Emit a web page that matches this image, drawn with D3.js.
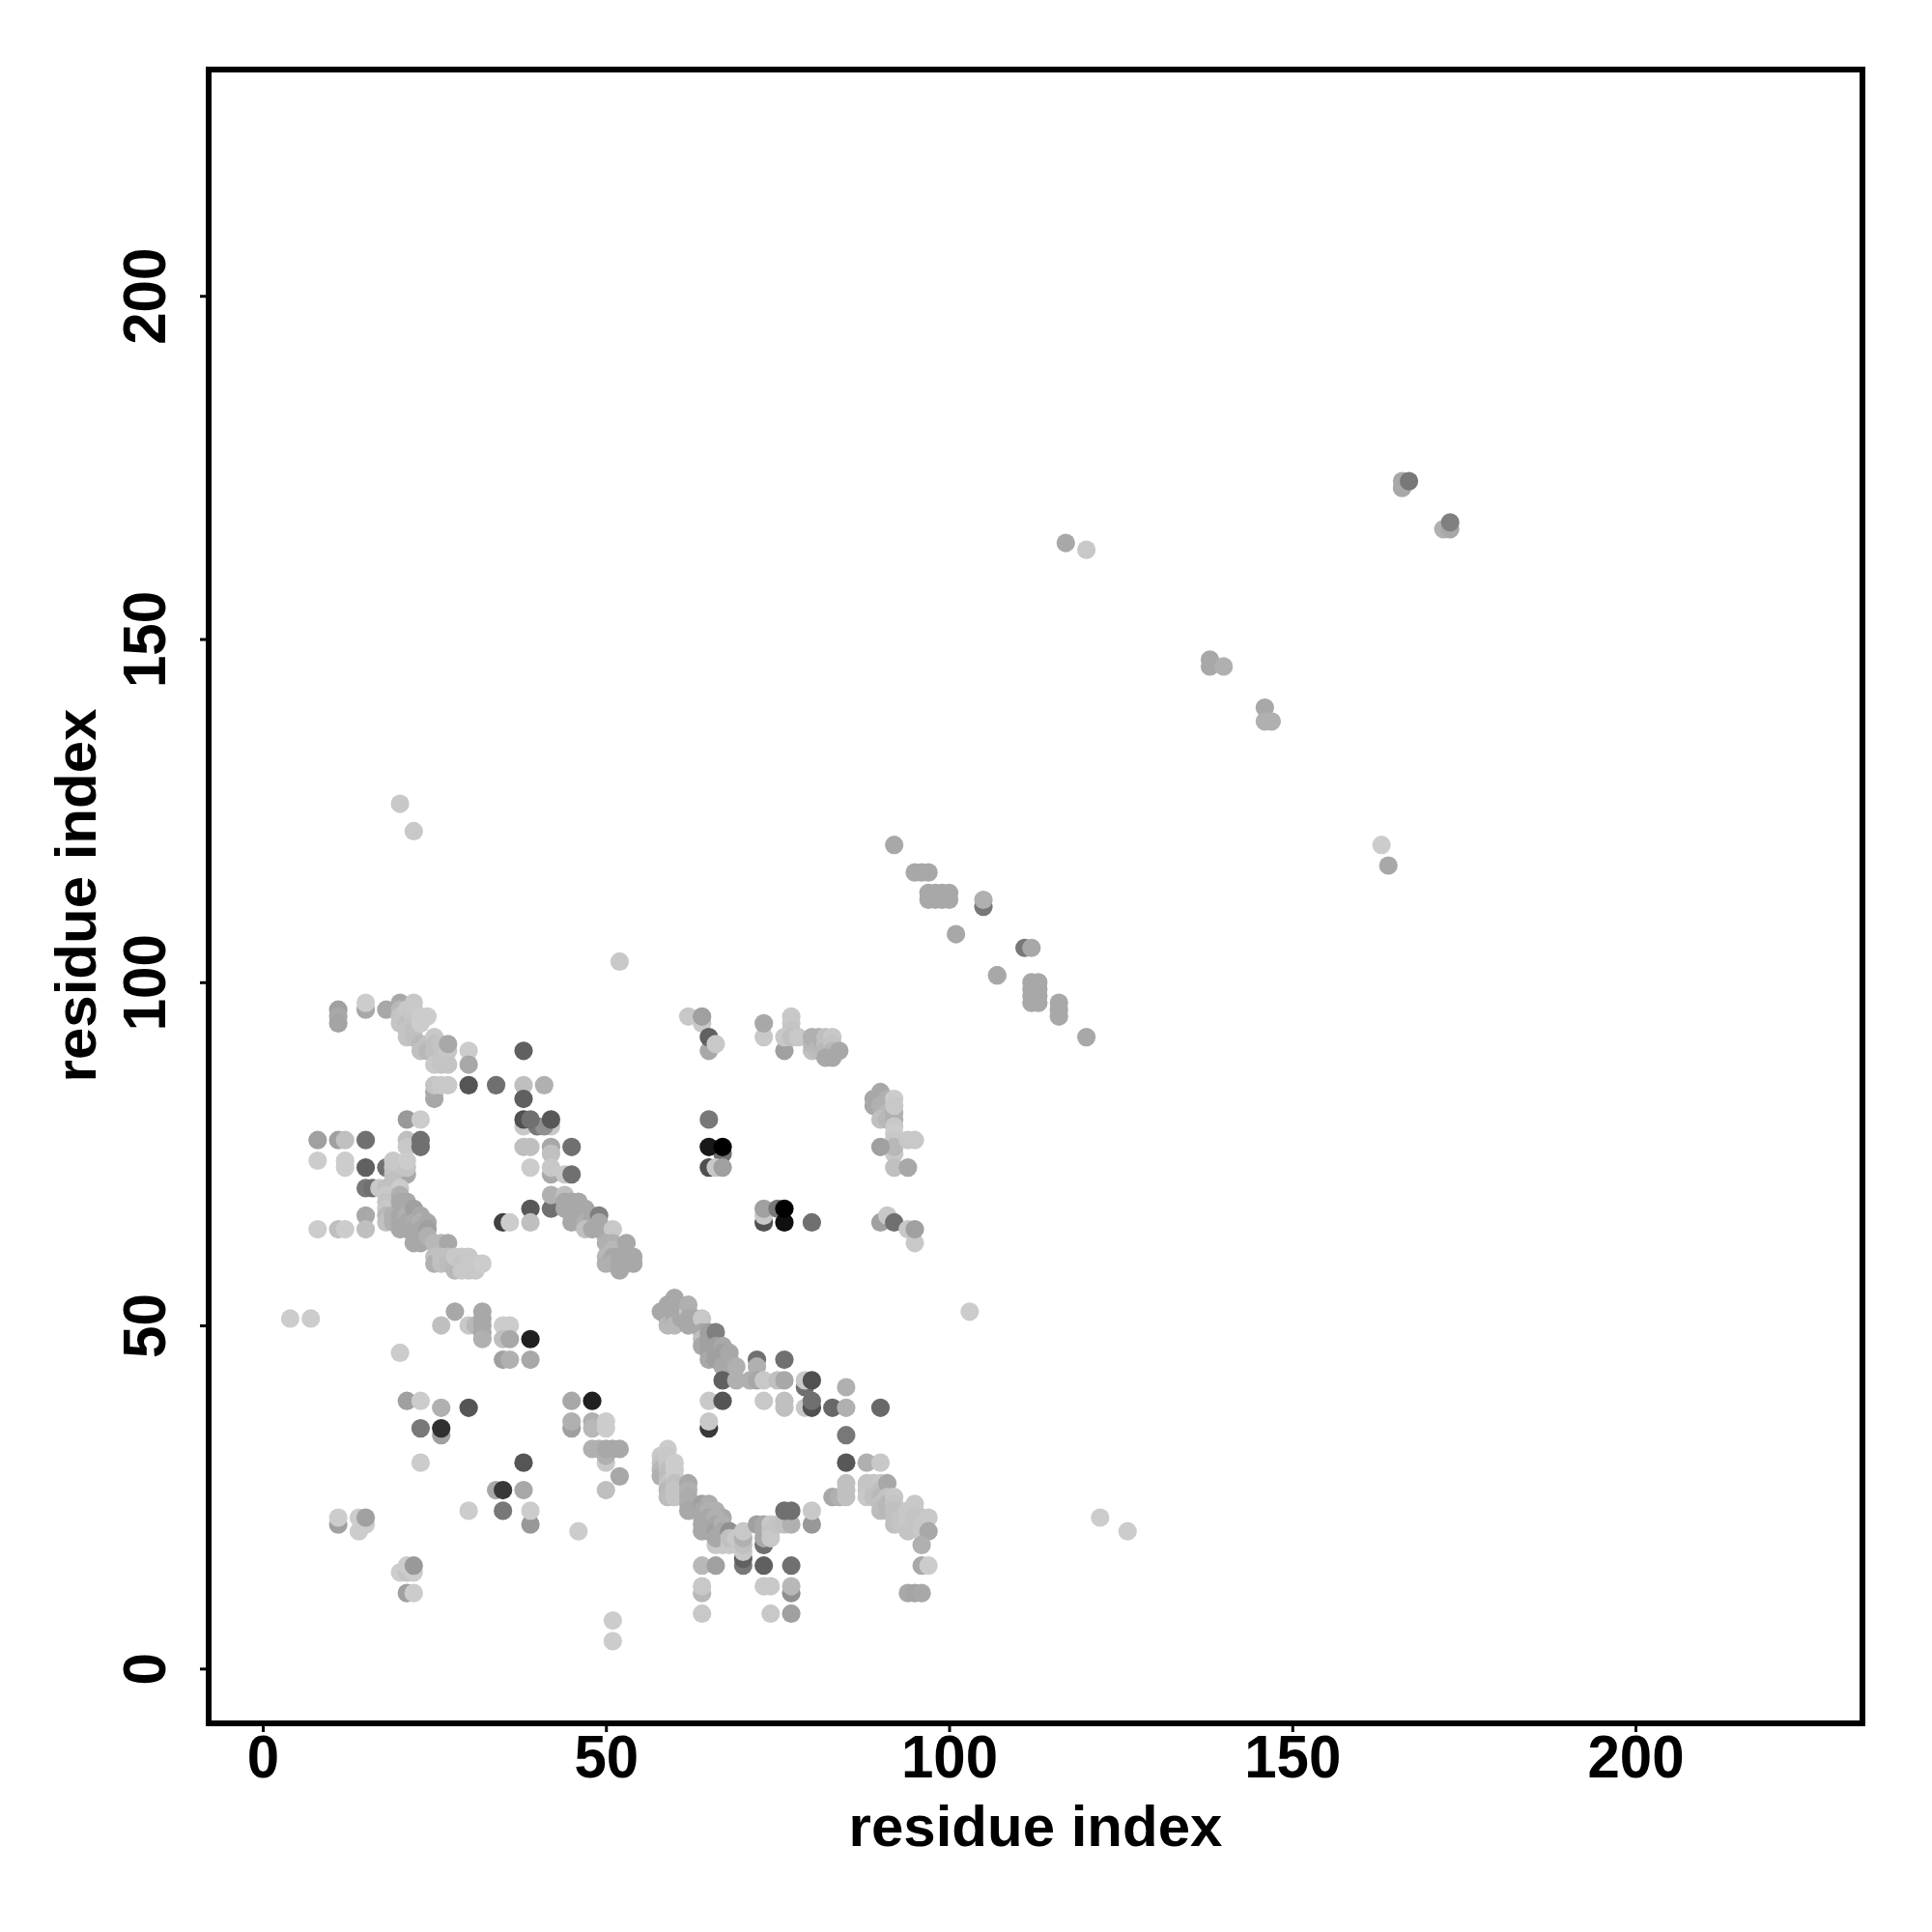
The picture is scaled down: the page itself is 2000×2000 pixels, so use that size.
<!DOCTYPE html>
<html><head><meta charset="utf-8">
<script src="https://cdn.jsdelivr.net/npm/d3@7"></script>
<style>html,body{margin:0;padding:0;background:#fff}svg{display:block}</style>
</head><body><div id="chart"></div>
<script>
const tickValues=[0,50,100,150,200];
const axisTitle="residue index";
// each contact: [residue i, residue j, level]
const farContacts=[[20,126,0xc8],[22,122,0xc8],[52,103,0xc8],[103,52,0xcc],[163,120,0xcc],[164,117,0xa8],[117,164,0xa8],[120,163,0xc8],[138,147,0xa8],[138,146,0xa8],[140,146,0xb0],[146,140,0xa8],[146,138,0xb0],[147,138,0xb0],[166,173,0xa8],[166,172,0xa8],[167,173,0x78],[172,166,0xb0],[173,166,0xa8],[173,167,0x80],[122,22,0xcc],[126,20,0xcc],[4,51,0xcc],[7,51,0xcc],[51,7,0xcc],[51,4,0xcc]];
const strandContacts=[[92,120,0xa8],[95,116,0xa8],[96,116,0xa8],[97,116,0xa8],[97,113,0xa8],[97,112,0xa8],[98,113,0xa8],[98,112,0xa8],[99,113,0xa8],[99,112,0xa8],[100,113,0xa8],[100,112,0xa8],[105,111,0x78],[105,112,0xb0],[101,107,0xa8],[111,105,0x78],[112,105,0xa8],[107,101,0xa8],[112,100,0xa8],[112,99,0xa8],[112,98,0xa8],[112,97,0xa8],[113,100,0xa8],[113,99,0xa8],[113,98,0xa8],[113,97,0xa8],[116,97,0xa8],[116,96,0xa8],[116,95,0xa8],[120,92,0xa8]];
const upperArc=[[11,96,0xa0],[11,95,0xa8],[11,94,0xa4],[15,96,0xa8],[15,97,0xcc],[18,96,0xa8],[20,97,0xa8],[20,96,0xb8],[20,95,0xc4],[20,94,0xc4],[21,96,0xc8],[21,94,0xc0],[21,93,0xc4],[21,92,0xc4],[22,97,0xc8],[22,96,0xc8],[22,95,0xc8],[22,94,0xc4],[22,93,0xc0],[22,92,0xc0],[23,95,0xcc],[23,94,0xcc],[23,91,0xb8],[23,90,0xc0],[24,95,0xcc],[24,91,0xc0],[24,90,0xb8],[25,92,0xc8],[25,91,0xc0],[25,90,0xc0],[25,88,0xc8],[26,91,0xc4],[26,89,0xc4],[26,88,0xc4],[27,90,0xc8],[27,88,0xc4],[27,91,0xa8],[30,90,0xcc],[30,88,0xa8],[38,90,0x60],[25,83,0xa8],[25,84,0xa8],[25,85,0xc4],[26,85,0xc8],[27,85,0xc8],[30,85,0x55],[34,85,0x70],[38,85,0xbf],[41,85,0xb0],[38,83,0x60]];
const leftBlock=[[21,80,0x99],[23,80,0xcc],[38,79,0xc8],[42,79,0xc8],[40,79,0x78],[41,79,0x90],[38,80,0x50],[39,80,0x70],[42,80,0x58],[8,77,0xa0],[11,77,0xa0],[12,77,0xc0],[15,77,0x70],[21,77,0xbf],[21,76,0xc8],[23,76,0x70],[23,77,0x70],[38,76,0xbf],[39,76,0xbf],[42,76,0xa8],[45,76,0x70],[8,74,0xcc],[12,74,0xcc],[12,73,0xcc],[15,73,0x60],[18,73,0x70],[42,75,0xc0],[39,73,0xcc],[42,72,0xa8],[42,73,0xc8],[44,72,0xc8],[45,72,0x70],[15,70,0x78],[16,70,0x70],[17,70,0xc8],[15,66,0xa8],[8,64,0xcc],[11,64,0xbf],[12,64,0xcc],[15,64,0xbf],[39,67,0x58],[42,67,0x70],[42,69,0xb0],[44,69,0xbf],[35,65,0x40],[36,65,0xcc],[39,65,0xbf]];
const lowerArc=[[19,72,0xc0],[21,72,0xa8],[20,73,0xc0],[19,73,0xc4],[19,74,0xc8],[21,73,0xc4],[21,74,0xcc],[18,70,0xc0],[19,71,0xc0],[20,70,0xcc],[18,69,0xc8],[18,68,0xc4],[18,67,0xc8],[18,66,0xb8],[18,65,0xc0],[19,66,0xb0],[19,65,0xb0],[20,69,0xb0],[20,68,0xa8],[20,66,0xa8],[20,65,0xa8],[20,64,0xa8],[21,68,0xa8],[21,66,0xb0],[21,65,0xa8],[21,64,0xa8],[22,67,0xa0],[22,65,0xac],[22,64,0xa8],[22,62,0xa8],[23,66,0xa8],[23,65,0xb0],[23,64,0xa8],[23,63,0xa8],[23,62,0xa8],[24,65,0xa8],[24,64,0xa0],[24,63,0xb0],[25,62,0xb8],[26,62,0xb8],[27,62,0xa8],[25,60,0xc0],[25,59,0xb0],[26,60,0xc0],[26,59,0xc0],[27,60,0xc0],[27,59,0xbc],[28,59,0xb8],[28,58,0xb8],[28,60,0xc8],[29,60,0xc8],[29,59,0xc4],[29,58,0xc8],[30,60,0xc8],[30,59,0xc8],[30,58,0xc8],[31,59,0xc8],[31,58,0xc8],[32,59,0xcc]];
const midChain=[[44,68,0xa8],[44,67,0xa8],[45,68,0xa8],[45,67,0xa8],[46,68,0xa8],[46,67,0xa8],[45,66,0xa8],[45,65,0xa8],[46,66,0xa8],[46,65,0xa8],[47,67,0xa8],[47,66,0xa8],[47,65,0xb0],[48,66,0xa8],[48,65,0xa8],[47,64,0xc0],[48,64,0xa8],[49,66,0x80],[49,65,0xa8],[49,64,0xa8],[50,63,0xa8],[51,64,0xc8],[50,62,0xb0],[50,60,0xb8],[50,59,0xb0],[51,62,0xb0],[51,61,0xb8],[51,60,0xa8],[51,59,0xb0],[52,60,0xa8],[52,59,0xa8],[52,58,0xa8],[53,62,0xa8],[53,60,0xa8],[53,59,0xa8],[54,60,0xa8],[54,59,0xa8]];
const centerChain=[[58,52,0xa8],[59,53,0xa8],[59,52,0xa8],[59,51,0xa8],[59,50,0xb8],[60,54,0xa8],[60,53,0xa8],[60,52,0xa8],[60,51,0xa8],[60,50,0xb8],[61,52,0xa8],[61,51,0xa8],[62,52,0xc8],[62,53,0xb0],[62,51,0xa8],[62,50,0xa8],[63,51,0xa8],[64,51,0xc8],[64,49,0xa8],[64,48,0xc0],[64,47,0xa8],[65,49,0xa0],[65,48,0xa0],[65,47,0xa0],[65,46,0xa0],[65,45,0xa8],[66,49,0x80],[66,47,0xa0],[66,46,0xa0],[66,45,0xa0],[67,47,0xa8],[67,46,0xa0],[67,45,0xa0],[67,44,0xa8],[68,46,0xa8],[68,45,0xa8],[68,44,0xa8],[67,42,0x60],[69,44,0xb0],[69,42,0xb0],[72,45,0x70],[76,45,0x70],[72,44,0xb0],[71,42,0xb0],[72,42,0xa8],[73,42,0xc8],[75,42,0xc0],[76,42,0xa8],[79,41,0x70],[79,42,0xc8],[80,42,0x50],[85,41,0xb0],[65,39,0xc8],[67,39,0x55],[73,39,0xc8],[76,39,0xc0],[76,38,0xc0],[79,38,0xc8],[80,38,0x50],[80,39,0x70],[83,38,0x68],[85,38,0xb0],[90,38,0x68],[65,35,0x38],[65,36,0xc8],[85,34,0x78]];
const lowerLeftBlock=[[28,52,0xa8],[32,52,0xa8],[26,50,0xbf],[30,50,0xc8],[31,50,0xb8],[32,51,0xa8],[32,50,0xa8],[32,49,0xa8],[32,48,0xb0],[35,50,0xcc],[36,50,0xcc],[35,48,0xbf],[36,48,0xa8],[39,48,0x20],[35,45,0xa0],[36,45,0xb0],[39,45,0xa8],[20,46,0xcc],[21,39,0xa0],[23,39,0xcc],[26,38,0xb0],[30,38,0x55],[23,35,0x78],[26,34,0xa0],[26,35,0x30],[23,30,0xcc],[38,30,0x55],[34,26,0xa8],[35,26,0x38],[38,26,0xa8],[30,23,0xcc],[35,23,0x78],[39,21,0x98],[39,23,0xcc],[11,21,0xa0],[11,22,0xcc],[14,20,0xcc],[15,21,0xcc],[14,22,0xcc],[15,22,0xa0],[46,20,0xcc],[45,39,0xa8],[48,39,0x20],[45,35,0xa0],[45,36,0xb0],[48,36,0xb0],[48,35,0xb8],[50,36,0xcc],[50,35,0xcc],[48,32,0xb0],[49,32,0xb0],[50,30,0xc8],[50,31,0xb0],[50,32,0xa8],[51,32,0xa8],[52,32,0xa8],[52,28,0xa8],[50,26,0xbf],[20,14,0xcc],[21,14,0xc4],[22,14,0xcc],[21,15,0xcc],[22,15,0x99],[21,11,0xa0],[22,11,0xcc]];
const bottomArc=[[58,31,0xc8],[58,30,0xc4],[58,29,0xb8],[58,28,0xb0],[59,32,0xcc],[59,31,0xc8],[59,30,0xc8],[59,29,0xc0],[59,28,0xbc],[59,27,0xc4],[59,26,0xb8],[59,25,0xbc],[60,30,0xcc],[60,29,0xcc],[60,28,0xcc],[60,27,0xc0],[60,26,0xc4],[60,25,0xc4],[62,27,0xa8],[62,26,0xb0],[62,25,0xac],[62,24,0xac],[62,23,0xa8],[64,24,0xa0],[65,24,0xac],[66,23,0xb0],[67,22,0xa8],[64,23,0xa8],[64,22,0xa8],[64,21,0xa8],[64,20,0xa8],[65,23,0xb0],[65,22,0xa8],[65,21,0xa8],[65,20,0xa8],[66,18,0xc8],[67,18,0xc8],[66,22,0xb0],[66,21,0xa8],[66,20,0xa0],[66,19,0xa8],[67,21,0xb0],[67,20,0xa8],[67,19,0xa8],[68,18,0xc8],[69,18,0xc8],[68,20,0x90],[68,19,0xc0],[69,19,0xc8],[70,15,0x78],[70,16,0x60],[70,17,0xc8],[70,18,0xc0],[70,19,0xb0],[70,20,0xc8],[73,18,0x70],[72,21,0xa0],[73,21,0xa8],[73,20,0xa8],[73,19,0xa8],[74,21,0xc8],[74,20,0xc4],[74,19,0xc8],[75,21,0xc4],[76,21,0xc0],[77,21,0xb0],[76,23,0x70],[77,23,0x70],[80,21,0x98],[80,23,0xc8],[64,15,0xb8],[66,15,0xa0],[73,15,0x60],[77,15,0x70],[64,11,0xb8],[64,12,0xc8],[73,12,0xc8],[74,12,0xc8],[77,11,0x90],[77,12,0xb8],[64,8,0xc8],[74,8,0xc8],[77,8,0xa0]];
const rightArc=[[85,30,0x58],[88,30,0xb0],[90,30,0xc8],[83,25,0xa8],[84,25,0xb0],[85,25,0xc0],[85,26,0xc0],[85,27,0xc0],[88,27,0xc4],[88,26,0xc4],[88,25,0xc8],[89,27,0xc4],[89,26,0xc4],[89,25,0xc0],[90,27,0xc8],[90,26,0xc0],[90,25,0xb8],[90,24,0xc0],[90,23,0xbc],[91,27,0xa8],[91,25,0xc4],[91,24,0xb8],[91,23,0xb8],[92,25,0xc8],[92,24,0xc4],[92,23,0xc0],[92,22,0xc0],[92,21,0xc0],[93,22,0xc4],[93,21,0xc4],[94,23,0xc8],[94,22,0xc8],[94,21,0xc8],[94,20,0xc4],[95,24,0xc8],[95,23,0xc8],[95,22,0xc4],[96,22,0xc4],[96,21,0xc8],[96,20,0xc8],[97,22,0xc8],[97,20,0xa8],[96,18,0xb0],[96,15,0xa8],[97,15,0xcc],[94,11,0xa8],[95,11,0xa4],[96,11,0xa8]];
const upperMid=[[62,95,0xc8],[64,94,0xc8],[64,95,0xa0],[65,90,0xa8],[65,92,0x60],[66,91,0xc8],[73,92,0xc8],[73,94,0xa8],[77,95,0xc8],[77,94,0xc8],[77,93,0xc4],[76,90,0xa0],[76,92,0xc8],[77,92,0xc0],[78,92,0xc8],[80,90,0xc0],[80,91,0xb8],[80,92,0xb0],[81,90,0xbc],[81,91,0xb8],[81,92,0xb0],[82,92,0xc0],[82,91,0xc0],[82,90,0xb8],[83,92,0xc8],[83,91,0xc4],[83,90,0xb8],[82,89,0xa8],[83,89,0xa8],[84,90,0xa8],[65,80,0x78],[67,75,0x70],[65,76,0x18],[67,76,0x00],[65,73,0x50],[66,73,0xc8],[67,73,0xa0],[73,65,0x50],[73,66,0xc8],[73,67,0xa0],[75,67,0x78],[76,65,0x10],[76,67,0x00],[80,65,0x70],[90,65,0xa0],[91,66,0xc8],[92,65,0x70],[95,62,0xc8],[94,64,0xc8],[95,64,0xa0],[90,84,0xa8],[89,83,0xa8],[89,82,0xa8],[90,83,0xa8],[90,82,0xb0],[91,83,0xb0],[91,82,0xb0],[91,81,0xb8],[90,80,0xc0],[91,80,0xb8],[92,81,0xb0],[92,80,0xb0],[92,83,0xcc],[92,82,0xc8],[92,79,0xc8],[92,78,0xcc],[92,77,0xc8],[92,75,0xc8],[92,76,0xb8],[90,76,0xa0],[94,77,0xc8],[95,77,0xc8],[92,73,0xc0],[94,73,0xa8],[107,101,0xa8]];

const contactGroups=[farContacts,strandContacts,upperArc,leftBlock,lowerArc,midChain,centerChain,lowerLeftBlock,bottomArc,rightArc,upperMid];

const svg=d3.select("#chart").append("svg").attr("width",2000).attr("height",2000);
const frame={l:216,r:1928,t:72,b:1784};
const x=d3.scaleLinear().domain([-7.88,233.07]).range([frame.l,frame.r]);
const y=d3.scaleLinear().domain([-7.98,232.97]).range([frame.b,frame.t]);
const shade=d3.scaleLinear().domain([0,255]).range(["#000000","#ffffff"]);
const font='"Liberation Sans",Arial,sans-serif';

svg.append("g").selectAll("circle").data(contactGroups.flat()).join("circle")
  .attr("cx",d=>x(d[0])).attr("cy",d=>y(d[1])).attr("r",9.6).attr("fill",d=>shade(d[2]));

svg.append("rect").attr("x",frame.l).attr("y",frame.t).attr("width",frame.r-frame.l).attr("height",frame.b-frame.t)
  .attr("fill","none").attr("stroke","#000").attr("stroke-width",6);

const gx=svg.append("g").attr("transform",`translate(0,${frame.b})`)
  .call(d3.axisBottom(x).tickValues(tickValues).tickSize(9).tickPadding(0).tickFormat(d3.format("d")));
const gy=svg.append("g").attr("transform",`translate(${frame.l},0)`)
  .call(d3.axisLeft(y).tickValues(tickValues).tickSize(9).tickPadding(0).tickFormat(d3.format("d")));
[gx,gy].forEach(g=>{g.select(".domain").remove();
  g.selectAll(".tick line").attr("stroke","#000").attr("stroke-width",3);
  g.selectAll("text").attr("fill","#000").style("font-family",font).style("font-weight","bold").style("font-size","62px");});
gx.selectAll("text").attr("dy",null).attr("y",null).attr("transform","translate(0,56) scale(0.968,1)");
gy.selectAll("text").attr("dy",null).attr("x",null).attr("text-anchor","middle")
  .attr("transform","translate(-45,0) rotate(-90) scale(0.968,1)");

svg.append("text").attr("x",1072).attr("y",1911).attr("text-anchor","middle")
  .style("font-family",font).style("font-weight","bold").style("font-size","60px").text(axisTitle);
svg.append("text").attr("transform","translate(99,927) rotate(-90)").attr("text-anchor","middle")
  .style("font-family",font).style("font-weight","bold").style("font-size","60px").text(axisTitle);
</script></body></html>
